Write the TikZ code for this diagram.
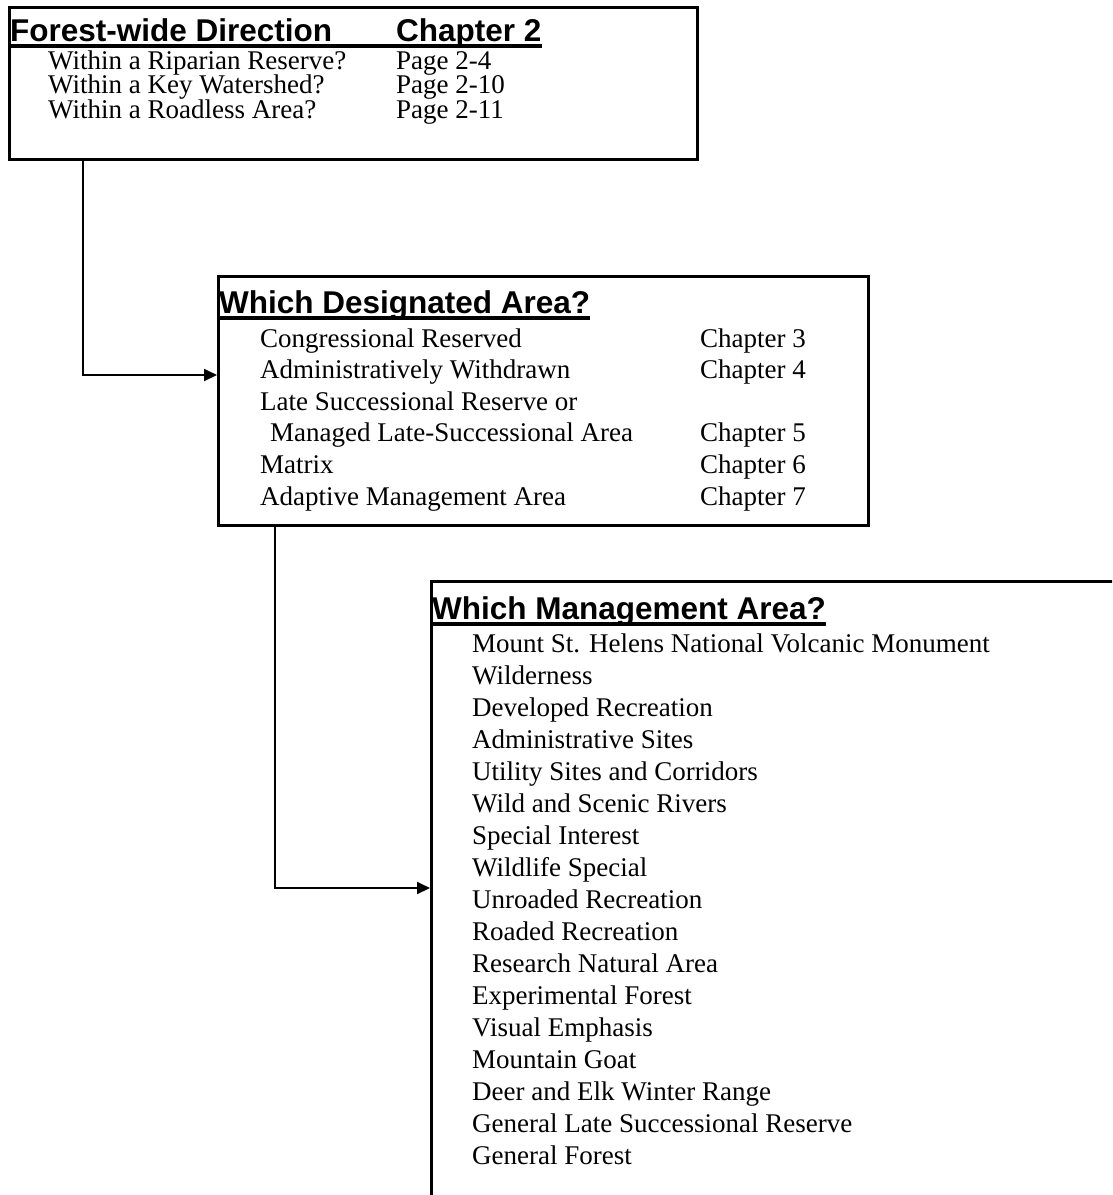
\documentclass[tikz,border=0pt]{standalone}
\usepackage{fontspec}
\setmainfont{Liberation Serif}
\setsansfont{Liberation Sans}
\usetikzlibrary{arrows.meta, positioning}

\tikzset{
  panel/.style={draw, line width=2.5pt, anchor=north west, inner sep=0pt},
  head/.style={anchor=base west, inner sep=0pt, font=\sffamily\bfseries\fontsize{31.5}{31.5}\selectfont},
  item/.style={anchor=base west, inner sep=0pt, font=\fontsize{27}{27}\selectfont},
  tight/.style={item, font=\fontsize{27}{19}\selectfont},
  uline/.style={line width=3.5pt},
  link/.style={line width=2pt, -{Triangle[length=13pt,width=12pt]}},
}

\begin{document}
\begin{tikzpicture}[x=1pt,y=-1pt]
    \useasboundingbox (0,0) rectangle (1112,1195);
    \clip (0,0) rectangle (1112,1195);

    % forest-wide box
    \node[panel, minimum width=688pt, minimum height=152pt] (fwd) at (8,6) {};
    \node[head] (fwdh) at (10,41) {Forest-wide Direction};
    \node[head] (fwdc) at (396,41) {Chapter 2};
    \draw[uline] ([yshift=-5pt]fwdh.base west) -- ([yshift=-5pt]fwdc.base east);
    \node[tight] (fwdrows) at (48,69) {\begin{tabular}[t]{@{}p{348pt}@{}l@{}}
        Within a Riparian Reserve? & Page 2-4\\
        Within a Key Watershed?    & Page 2-10\\
        Within a Roadless Area?    & Page 2-11
        \end{tabular}};

    % designated area box
    \node[panel, minimum width=650pt, minimum height=249pt] (desig) at (217,275) {};
    \node[head] (desigh) at (219,313) {Which Designated Area?};
    \draw[uline] ([yshift=-5pt]desigh.base west) -- ([yshift=-5pt]desigh.base east);
    \node[item] (d1) at (260,347) {Congressional Reserved};
    \node[item] (c1) at (700,347) {Chapter 3};
    \node[item] (d2) at (260,378.6) {Administratively Withdrawn};
    \node[item] (c2) at (700,378.6) {Chapter 4};
    \node[item] (d3) at (260,410.2) {Late Successional Reserve or};
    \node[item] (d4) at (270,441.8) {Managed Late-Successional Area};
    \node[item] (c4) at (700,441.8) {Chapter 5};
    \node[item] (d5) at (260,473.4) {Matrix};
    \node[item] (c5) at (700,473.4) {Chapter 6};
    \node[item] (d6) at (260,505) {Adaptive Management Area};
    \node[item] (c6) at (700,505) {Chapter 7};

    % management area box
    \node[panel, minimum width=700pt, minimum height=640pt] (mgmt) at (430,580) {};
    \node[head] (mgmth) at (432,619) {Which Management Area?};
    \draw[uline] ([yshift=-5pt]mgmth.base west) -- ([yshift=-5pt]mgmth.base east);
    \foreach \area [count=\i from 0] in {Mount St. Helens National Volcanic Monument,
        Wilderness, Developed Recreation, Administrative Sites,
        Utility Sites and Corridors, Wild and Scenic Rivers, Special Interest,
        Wildlife Special, Unroaded Recreation, Roaded Recreation,
        Research Natural Area, Experimental Forest, Visual Emphasis,
        Mountain Goat, Deer and Elk Winter Range,
        General Late Successional Reserve, General Forest}
        \node[item] (ma\i) at (472,652+32*\i) {\area};

    % connectors
    \draw[link] ([xshift=75pt]fwd.south west) |- ([yshift=-100pt]desig.north west);
    \draw[link] ([xshift=58pt]desig.south west) |- ([yshift=-308pt]mgmt.north west);
\end{tikzpicture}
\end{document}
